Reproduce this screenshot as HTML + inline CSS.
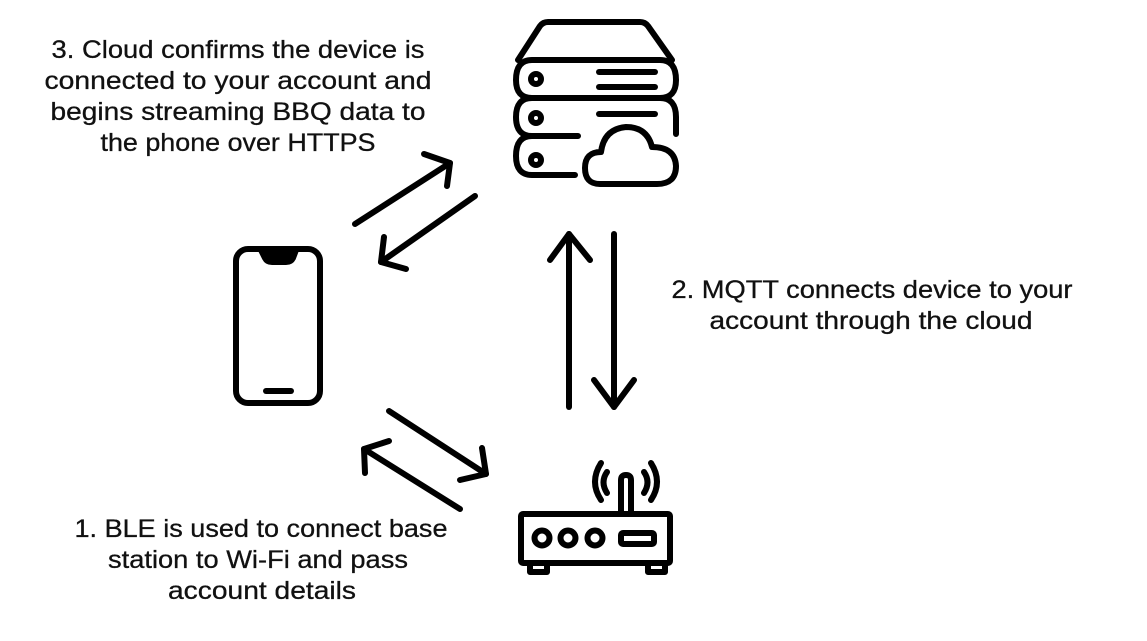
<!DOCTYPE html>
<html><head><meta charset="utf-8"><style>
html,body{margin:0;padding:0;background:#fff;}
svg{display:block;}
text{font-family:"Liberation Sans",sans-serif;font-size:25px;fill:#111;stroke:#111;stroke-width:0.3px;}
</style></head><body>
<svg width="1147" height="641" viewBox="0 0 1147 641" xmlns="http://www.w3.org/2000/svg">
<g fill="none" stroke="#000" stroke-width="6" stroke-linecap="round" stroke-linejoin="round">
<!-- server -->
<path d="M518,60 L540,26 Q543,22 548,22 L640,22 Q645,22 648,26 L672,60"/>
<path d="M534,98 L660,98 Q676,98 676,80 Q676,60 660,60 L532,60 Q516,60 516,80 Q516,98 532,98 Z"/>
<path d="M532,98 Q516,98 516,117 Q516,136 532,136 L578,136"/>
<path d="M660,98 Q676,98 676,117 L676,134"/>
<path d="M532,136 Q516,136 516,156 Q516,175 532,175 L575,175"/>
<circle cx="536" cy="79" r="5"/><circle cx="536" cy="118" r="5"/><circle cx="536" cy="160" r="5"/>
<line x1="599" y1="72" x2="655" y2="72"/><line x1="599" y1="87" x2="655" y2="87"/><line x1="599" y1="114" x2="655" y2="114"/>
<path d="M600,184 Q585,184 585,168 Q585,152 601,152 Q604,129 626,127 Q647,127 652,147 Q675,147 676,166 Q676,184 657,184 Z"/>
<!-- phone -->
<rect x="236" y="249" width="84" height="154" rx="12"/>
<path d="M261,250 L265,258 Q267,262 272,262 L286,262 Q291,262 293,258 L296,250 Z" fill="#000"/>
<line x1="266" y1="391" x2="291" y2="391"/>
<!-- arrows phone-server -->
<line x1="355" y1="224" x2="450" y2="163"/><polyline points="424,154 450,163 447,186"/>
<line x1="475" y1="196" x2="381" y2="262"/><polyline points="384,237 381,262 406,269"/>
<!-- vertical arrows -->
<line x1="569" y1="407" x2="569" y2="234"/><polyline points="550,260 569,234 590,260"/>
<line x1="614" y1="234" x2="614" y2="407"/><polyline points="594,380 614,407 634,380"/>
<!-- phone-router arrows -->
<line x1="389" y1="411" x2="486" y2="474"/><polyline points="482,448 486,474 460,480"/>
<line x1="460" y1="509" x2="364" y2="449"/><polyline points="365,473 364,449 389,441"/>
<!-- router -->
<rect x="521" y="514" width="149" height="49" rx="2"/>
<circle cx="542" cy="538" r="7.5"/><circle cx="568" cy="538" r="7.5"/><circle cx="595" cy="538" r="7.5"/>
<rect x="621" y="533" width="33" height="11" rx="2"/>
<path d="M530,564 L530,572 L547,572 L547,564 M648,564 L648,572 L665,572 L665,564"/>
<path d="M621,513 L621,480 Q621,475 626,475 Q631,475 631,480 L631,513"/>
<path d="M607,472 Q600,482 607,493 M644,472 Q651,482 644,493"/>
<path d="M601,463 Q589,482 601,500 M651,463 Q663,482 651,500"/>
</g>
<g text-anchor="middle">
<text x="238" y="58" textLength="373" lengthAdjust="spacingAndGlyphs">3. Cloud confirms the device is</text>
<text x="238" y="89" textLength="387" lengthAdjust="spacingAndGlyphs">connected to your account and</text>
<text x="238" y="120" textLength="375" lengthAdjust="spacingAndGlyphs">begins streaming BBQ data to</text>
<text x="238" y="151" textLength="275" lengthAdjust="spacingAndGlyphs">the phone over HTTPS</text>
<text x="872" y="298" textLength="401" lengthAdjust="spacingAndGlyphs">2. MQTT connects device to your</text>
<text x="871" y="329" textLength="323" lengthAdjust="spacingAndGlyphs">account through the cloud</text>
<text x="261" y="537" textLength="373" lengthAdjust="spacingAndGlyphs">1. BLE is used to connect base</text>
<text x="258" y="568" textLength="300" lengthAdjust="spacingAndGlyphs">station to Wi-Fi and pass</text>
<text x="262" y="599" textLength="188" lengthAdjust="spacingAndGlyphs">account details</text>
</g>
</svg>
</body></html>
